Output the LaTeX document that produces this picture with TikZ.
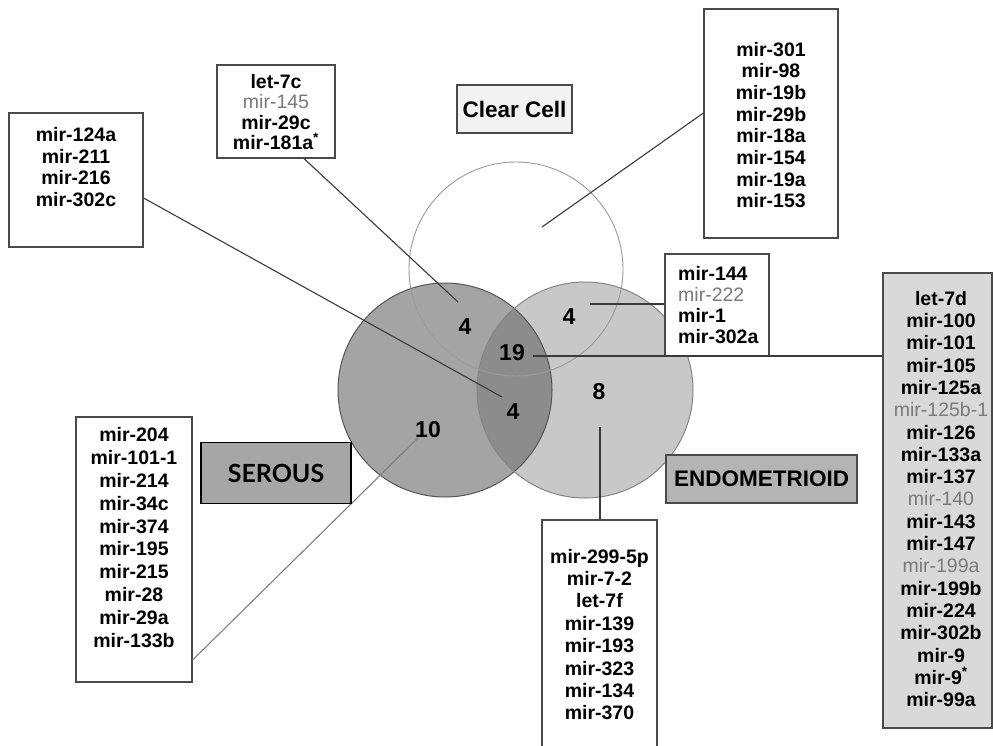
\documentclass[tikz,border=0pt]{standalone}
\usepackage{fontspec}
\setmainfont{Liberation Sans}
\newfontfamily\latofont{Lato}
\usetikzlibrary{calc}
\definecolor{serousfill}{HTML}{A4A4A4}
\definecolor{endofill}{HTML}{C8C8C8}
\definecolor{overlapfill}{HTML}{8C8C8C}
\definecolor{serousline}{HTML}{555555}
\definecolor{endoline}{HTML}{858585}
\definecolor{clearline}{HTML}{9A9A9A}
\definecolor{boxline}{HTML}{4A4A4A}
\definecolor{connline}{HTML}{3A3A3A}
\definecolor{graytext}{HTML}{7A7A7A}
\definecolor{rightfill}{HTML}{D9D9D9}
\definecolor{seroustag}{HTML}{A6A6A6}
\definecolor{endotag}{HTML}{B4B4B4}
\definecolor{cleartag}{HTML}{F2F2F2}
\newcommand{\grx}[1]{{\mdseries\color{graytext}#1}}
\begin{document}
\begin{tikzpicture}[x=1pt,y=-1pt,
  listbox/.style={draw=boxline, line width=1.2pt, fill=white, inner sep=0pt},
  listtext/.style={align=center, font=\fontsize{19.5}{21.7}\selectfont\bfseries, inner sep=0pt},
  num/.style={font=\fontsize{23}{23}\selectfont\bfseries, inner sep=0pt},
  conn/.style={draw=connline, line width=1.1pt},
  tag/.style={draw=boxline, line width=1.4pt, inner sep=0pt, font=\fontsize{22.5}{22.5}\selectfont\bfseries}]
\useasboundingbox (0,0) rectangle (993,745);
\fill[white] (0,0) rectangle (993,745);
% circles
\coordinate (cc) at (516,269);
\coordinate (cs) at (445,390);
\coordinate (ce) at (585,390);
\fill[white] (cc) circle[radius=107pt];
\fill[serousfill] (cs) circle[radius=107pt];
\fill[endofill] (ce) circle[radius=108pt];
\begin{scope}
  \clip (cs) circle[radius=107pt];
  \fill[overlapfill] (ce) circle[radius=108pt];
\end{scope}
\draw[serousline, line width=1pt] (cs) circle[radius=107pt];
\draw[endoline, line width=1pt] (ce) circle[radius=108pt];
\draw[clearline, line width=0.9pt] (cc) circle[radius=107pt];
% connector end points
\coordinate (p4sc) at (458,302);
\coordinate (p4se) at (502,397);
\coordinate (pcc) at (542,227);
\coordinate (p4ec) at (590,304);
\coordinate (p19) at (533,356);
\coordinate (p10) at (418,438);
\coordinate (p8) at (600,427);
% boxes
\node[listbox, minimum width=134pt, minimum height=134pt] (b1) at (76,180) {};
\node[listtext] (t1) at (76,167) {mir-124a\\mir-211\\mir-216\\mir-302c};
\node[listbox, minimum width=118pt, minimum height=93pt] (b2) at (276,111.5) {};
\node[listtext, font=\fontsize{19.5}{20.5}\selectfont\bfseries] (t2) at (276,112) {let-7c\\\grx{mir-145}\\mir-29c\\mir-181a\textsuperscript{*}};
\node[listbox, minimum width=134pt, minimum height=229pt] (b3) at (771,123.5) {};
\node[listtext] (t3) at (771,125) {mir-301\\mir-98\\mir-19b\\mir-29b\\mir-18a\\mir-154\\mir-19a\\mir-153};
\node[listbox, minimum width=104pt, minimum height=102pt] (b4) at (717,305) {};
\node[listtext, align=left, anchor=west, font=\fontsize{19.5}{21.3}\selectfont\bfseries] (t4) at (678,305) {mir-144\\\grx{mir-222}\\mir-1\\mir-302a};
\node[listbox, fill=rightfill, minimum width=109pt, minimum height=455pt] (b5) at (937.5,500.5) {};
\node[listtext, font=\fontsize{19.5}{22.3}\selectfont\bfseries] (t5) at (941,499) {let-7d\\mir-100\\mir-101\\mir-105\\mir-125a\\\grx{mir-125b-1}\\mir-126\\mir-133a\\mir-137\\\grx{mir-140}\\mir-143\\mir-147\\\grx{mir-199a}\\mir-199b\\mir-224\\mir-302b\\mir-9\\mir-9\textsuperscript{*}\\mir-99a};
\node[listbox, minimum width=116pt, minimum height=265pt] (b6) at (134,549.5) {};
\node[listtext, font=\fontsize{19.5}{22.8}\selectfont\bfseries] (t6) at (134,537.5) {mir-204\\mir-101-1\\mir-214\\mir-34c\\mir-374\\mir-195\\mir-215\\mir-28\\mir-29a\\mir-133b};
\node[listbox, minimum width=115pt, minimum height=250pt] (b7) at (599.5,645) {};
\node[listtext, font=\fontsize{19.5}{22.4}\selectfont\bfseries] (t7) at (599.5,634.5) {mir-299-5p\\mir-7-2\\let-7f\\mir-139\\mir-193\\mir-323\\mir-134\\mir-370};
% connectors
\draw[conn] ([yshift=-18pt]b1.east) -- (p4se);
\draw[conn] ([xshift=28pt]b2.south) -- (p4sc);
\draw[conn] ([yshift=10.5pt]b3.west) -- (pcc);
\draw[conn] (p4ec) -- (p4ec -| b4.west);
\draw[conn] (p19) -- (p19 -| b5.west);
\draw[draw=gray, line width=1.1pt] ([yshift=-110.5pt]b6.east) -- (p10);
\draw[conn] (p8) -- (p8 |- b7.north);
% tags
\node[tag, fill=cleartag, minimum width=115pt, minimum height=48pt] (tc) at (514.5,109) {Clear Cell};
\node[tag, draw=black, line width=1.6pt, fill=seroustag, minimum width=150pt, minimum height=61pt, font=\latofont\fontsize{25}{25}\selectfont\bfseries] (ts) at (276,473) {SEROUS};
\node[tag, fill=endotag, minimum width=191pt, minimum height=48pt] (te) at (761.5,479) {ENDOMETRIOID};
% numbers
\node[num] (n1) at (465,327) {4};
\node[num] (n2) at (569,317) {4};
\node[num] (n3) at (512,353) {19};
\node[num] (n4) at (513,412) {4};
\node[num] (n5) at (599,392) {8};
\node[num] (n6) at (428,430) {10};
\end{tikzpicture}
\end{document}
